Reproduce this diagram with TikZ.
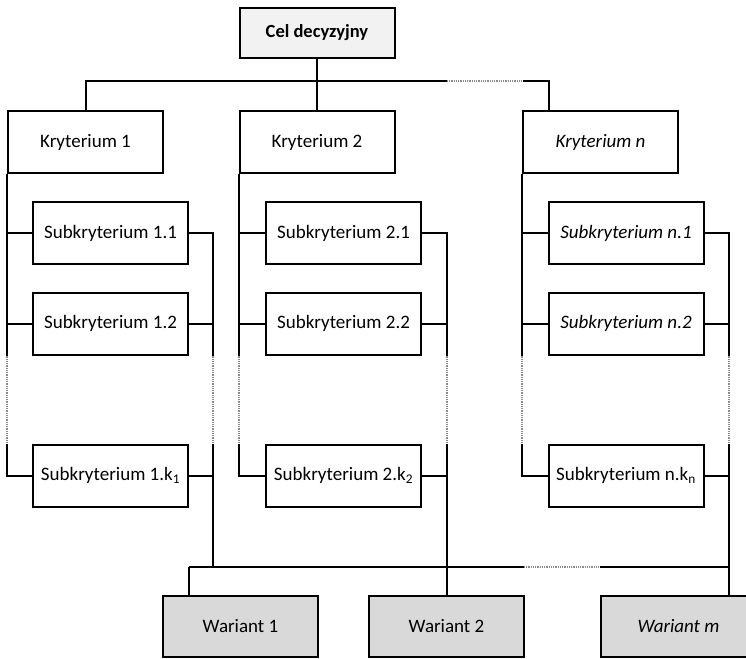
\documentclass[tikz,border=0pt]{standalone}
\usepackage{fontspec}
\setmainfont{Carlito}
\usetikzlibrary{positioning,calc}
\definecolor{celfill}{HTML}{F2F2F2}
\definecolor{warfill}{HTML}{D9D9D9}
\tikzset{box/.style={draw,line width=2pt,minimum width=155pt,minimum height=62pt,inner sep=0pt,
        font=\fontsize{19}{22}\selectfont},
    celbox/.style={box,fill=celfill,minimum height=50pt,font=\fontsize{18.5}{22}\selectfont\bfseries},
    warbox/.style={box,fill=warfill,minimum height=61pt},
    line/.style={line width=2pt},
    gap/.style={line width=2pt,black!45,dash pattern=on 1pt off 0.8pt}
}

\begin{document}
\begin{tikzpicture}[x=1pt,y=-1pt]
	\useasboundingbox (0,0) rectangle (746,658);

	\node[celbox] (Cel) at (317,33) {Cel decyzyjny};

	\node[box] (K1) at (85.5,142) {Kryterium 1};
	\node[box] (K2) at (317,142) {Kryterium 2};
	\node[box] (Kn) at (600.5,142) {\itshape Kryterium n};

	\node[box] (S11) at (110.5,233) {Subkryterium 1.1};
	\node[box] (S12) at (110.5,323.5) {Subkryterium 1.2};
	\node[box] (S1k) at (110.5,475.5) {Subkryterium 1.k\textsubscript{1}};
	\node[box] (S21) at (343.5,233) {Subkryterium 2.1};
	\node[box] (S22) at (343.5,323.5) {Subkryterium 2.2};
	\node[box] (S2k) at (343.5,475.5) {Subkryterium 2.k\textsubscript{2}};
	\node[box] (Sn1) at (626,233) {\itshape Subkryterium n.1};
	\node[box] (Sn2) at (626,323.5) {\itshape Subkryterium n.2};
	\node[box] (Snk) at (626,475.5) {Subkryterium n.k\textsubscript{n}};

	\node[warbox] (W1) at (240.5,626.5) {Wariant 1};
	\node[warbox] (W2) at (446.5,626.5) {Wariant 2};
	\node[warbox] (Wm) at (678.5,626.5) {\itshape Wariant m};

	\coordinate (TL) at (85.5,81);
	\coordinate (TD1) at (447,81);
	\coordinate (TD2) at (523,81);
	\coordinate (TR) at (549,81);

	\coordinate (B1) at (188.5,567);
	\coordinate (R1) at (213,567);
	\coordinate (R2) at (446.5,567);
	\coordinate (BD1) at (524,567);
	\coordinate (BD2) at (600,567);
	\coordinate (Rn) at (729,567);

	\draw[line] (Cel) -- (K2);
	\draw[line] (K1.north) -- (TL) -- (TD1);
	\draw[gap] (TD1) -- (TD2);
	\draw[line] (TD2) -- (TR) -- (TR |- Kn.north);

	\foreach \c in {1,2,n}{
		\draw[line] (K\c.south west) -- (K\c.south west |- S\c2.south);
		\draw[gap] (K\c.south west |- S\c2.south) -- (K\c.south west |- S\c k.north);
		\draw[line] (K\c.south west |- S\c k.north) |- (S\c k.west);
		\draw[line] (K\c.south west |- S\c1) -- (S\c1.west);
		\draw[line] (K\c.south west |- S\c2) -- (S\c2.west);
	}

	\foreach \c/\r in {1/R1,2/R2,n/Rn}{
		\draw[line] (S\c1.east) -| (\r |- S\c2.south);
		\draw[line] (S\c2.east) -- (\r |- S\c2);
		\draw[gap] (\r |- S\c2.south) -- (\r |- S\c k.north);
		\draw[line] (\r |- S\c k.north) -- (\r);
		\draw[line] (S\c k.east) -- (\r |- S\c k);
	}

	\draw[line] (B1) -- (R1) -- (R2) -- (BD1);
	\draw[gap] (BD1) -- (BD2);
	\draw[line] (BD2) -- (Rn);
	\draw[line] (B1) -- (B1 |- W1.north);
	\draw[line] (R2) -- (W2);
	\draw[line] (Rn) -- (Rn |- Wm.north);

\end{tikzpicture}
\end{document}
